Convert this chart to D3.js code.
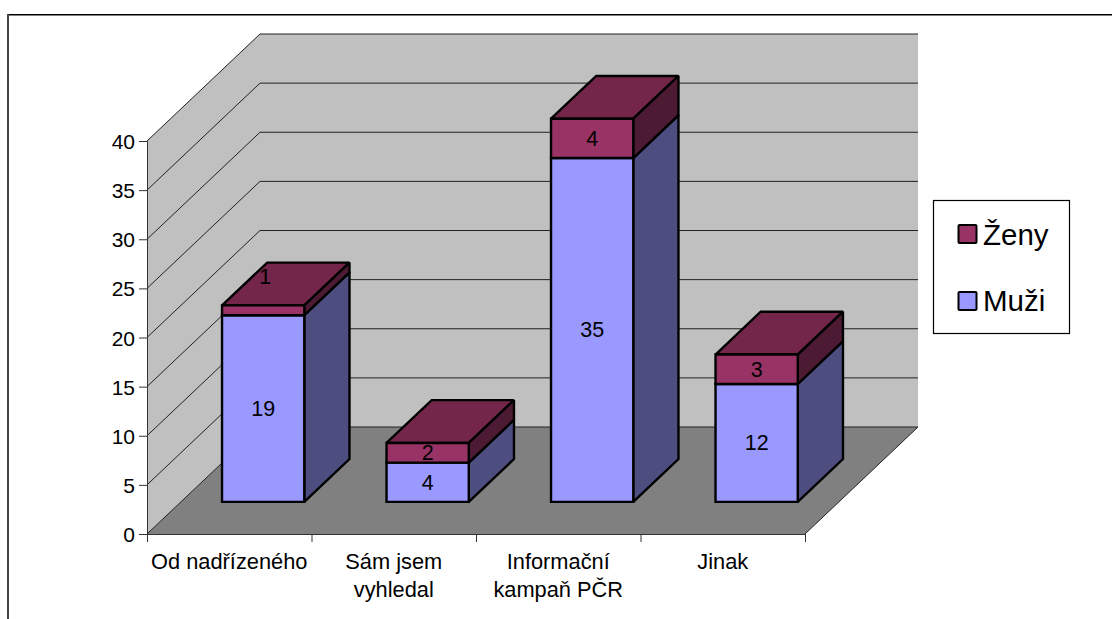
<!DOCTYPE html>
<html>
<head>
<meta charset="utf-8">
<script src="https://cdn.jsdelivr.net/npm/d3@7/dist/d3.min.js"></script>
<style>
html,body{margin:0;padding:0;background:#fff;overflow:hidden}
svg{display:block}
text{font-family:"Liberation Sans",Arial,sans-serif;fill:#000}
</style>
</head>
<body>
<svg id="chart" width="1112" height="619"></svg>
<script>
const categories = [["Od nadřízeného"], ["Sám jsem", "vyhledal"], ["Informační", "kampaň PČR"], ["Jinak"]];
const muzi = [19, 4, 35, 12];
const zeny = [1, 2, 4, 3];
const valueTicks = [0, 5, 10, 15, 20, 25, 30, 35, 40];
const seriesNames = ["Ženy", "Muži"];

const W = 1112, H = 619;
const svg = d3.select("#chart");

// Oblique projection of the 3D plot box
const depthX = 113, depthY = -107;
const x = d3.scaleBand().domain(d3.range(categories.length)).range([147, 805]);
const y = d3.scaleLinear().domain([0, 40]).range([534, 141]);
const barWidth = x.bandwidth() / 2;
const project = (px, py, d) => [px + depthX * d, py + depthY * d];
const poly = (pts, fill, stroke, sw) => svg.append("polygon")
  .attr("points", pts.map(p => p.join(",")).join(" "))
  .attr("fill", fill)
  .attr("stroke", stroke || "none")
  .attr("stroke-width", sw || 0)
  .attr("stroke-linejoin", "miter")
  .attr("stroke-miterlimit", 1.5);

// Chart area border: top and left edges only
svg.append("line").attr("x1", 7).attr("x2", W).attr("y1", 14.7).attr("y2", 14.7)
  .attr("stroke", "#000").attr("stroke-width", 1.4);
svg.append("line").attr("x1", 8).attr("x2", 8).attr("y1", 14).attr("y2", H)
  .attr("stroke", "#444").attr("stroke-width", 2);

// Walls and floor
const xL = x.range()[0], xR = x.range()[1], yB = y(0), yT = y(40);
poly([[xL, yB], [xL, yT], project(xL, yT, 1), project(xL, yB, 1)], "#c0c0c0");
poly([project(xL, yB, 1), project(xL, yT, 1), project(xR, yT, 1), project(xR, yB, 1)], "#c0c0c0");
poly([[xL, yB], [xR, yB], project(xR, yB, 1), project(xL, yB, 1)], "#808080");

// Gridlines across the side and back walls
valueTicks.forEach(v => {
  const a = [xL, y(v)], b = project(xL, y(v), 1), c = project(xR, y(v), 1);
  svg.append("path")
    .attr("d", `M${a} L${b} L${c}`)
    .attr("fill", "none").attr("stroke", "#222").attr("stroke-width", 1);
});
// Floor outer edge
svg.append("path")
  .attr("d", `M${[xR, yB]} L${project(xR, yB, 1)}`)
  .attr("fill", "none").attr("stroke", "#222").attr("stroke-width", 1);

// Axes
const yAxis = d3.axisLeft(y).tickValues(valueTicks).tickSize(8).tickPadding(4);
const yG = svg.append("g").attr("transform", `translate(${xL},0)`).call(yAxis);
yG.selectAll("text").attr("font-size", 21).attr("font-family", "Liberation Sans").attr("dy", "0.36em");
yG.selectAll("line,path").attr("stroke", "#333");

const edgeScale = d3.scaleLinear().domain([0, categories.length]).range(x.range());
const xAxis = d3.axisBottom(edgeScale).tickValues(d3.range(categories.length + 1))
  .tickSize(8).tickFormat("");
const xG = svg.append("g").attr("transform", `translate(0,${yB})`).call(xAxis);
xG.selectAll("line,path").attr("stroke", "#333");

// Category labels
const labels = svg.selectAll("text.cat").data(categories).join("text")
  .attr("class", "cat").attr("text-anchor", "middle").attr("font-size", 21.8);
labels.each(function (lines, i) {
  d3.select(this).selectAll("tspan").data(lines).join("tspan")
    .attr("x", x(i) + x.bandwidth() / 2)
    .attr("y", (d, k) => 569 + k * 27.5)
    .text(d => d);
});

// One extruded box for a stacked segment
function box(i, v0, v1, front, top, side) {
  const cx = x(i) + x.bandwidth() / 2;
  const z0 = 0.3, z1 = 0.7;
  const [xa, ya] = project(cx - barWidth / 2, y(v0), z0);
  const [xb, yb] = project(cx + barWidth / 2, y(v1), z0);
  const [ddx, ddy] = [depthX * (z1 - z0), depthY * (z1 - z0)];
  poly([[xa, yb], [xb, yb], [xb + ddx, yb + ddy], [xa + ddx, yb + ddy]], top, "#000", 2.4);
  poly([[xb, ya], [xb, yb], [xb + ddx, yb + ddy], [xb + ddx, ya + ddy]], side, "#000", 2.4);
  poly([[xa, ya], [xb, ya], [xb, yb], [xa, yb]], front, "#000", 2.4);
  return { cx: (xa + xb) / 2, cy: (ya + yb) / 2, h: ya - yb, ddy };
}

const labelQueue = [];
categories.forEach((c, i) => {
  const a = box(i, 0, muzi[i], "#9999ff", "#737fbf", "#4d4d80");
  const b = box(i, muzi[i], muzi[i] + zeny[i], "#993366", "#732649", "#4d1a33");
  labelQueue.push({ ...a, t: muzi[i] }, { ...b, t: zeny[i] });
});

// Data labels sit on the front face; a segment too thin to hold one pushes it onto the top face
labelQueue.forEach(l => {
  const lifted = l.h < 16;
  svg.append("text")
    .attr("x", l.cx + (lifted ? 2 : 0))
    .attr("y", l.cy + (lifted ? l.ddy + 9 : 0))
    .attr("dy", "0.35em")
    .attr("text-anchor", "middle")
    .attr("font-size", 21.5)
    .text(l.t);
});

// Legend
svg.append("rect").attr("x", 933.5).attr("y", 200.5).attr("width", 136).attr("height", 133)
  .attr("fill", "#fff").attr("stroke", "#000").attr("stroke-width", 1.2);
[["#993366", 234, 245], ["#9999ff", 301, 311]].forEach(([col, cy, base], i) => {
  svg.append("rect").attr("x", 958.5).attr("y", cy - 9).attr("width", 18).attr("height", 18)
    .attr("rx", 1).attr("fill", col).attr("stroke", "#000").attr("stroke-width", 2);
  svg.append("text").attr("x", 983).attr("y", base)
    .attr("font-size", 29.5).text(seriesNames[i]);
});
</script>
</body>
</html>
